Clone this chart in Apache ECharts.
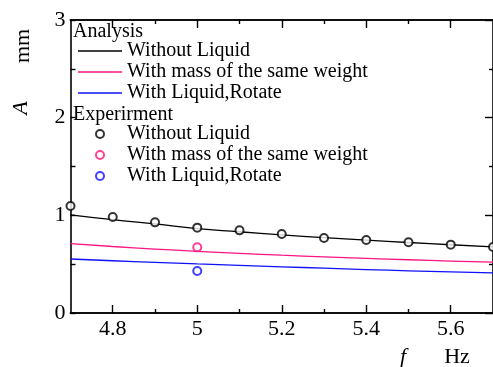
<!DOCTYPE html>
<html>
<head>
<meta charset="utf-8">
<script src="https://cdn.jsdelivr.net/npm/echarts@6/dist/echarts.min.js"></script>
<style>html,body{margin:0;padding:0;background:#fff;}#c{width:493px;height:367px;}</style>
</head>
<body>
<div id="c"></div>
<script>
// Analysis curves
const fLine = [4.7, 4.8, 4.9, 5.0, 5.1, 5.2, 5.3, 5.4, 5.5, 5.6, 5.7];
const anaWithout = [1.005, 0.955, 0.912, 0.864, 0.832, 0.800, 0.772, 0.746, 0.722, 0.699, 0.677];
const anaMass    = [0.710, 0.681, 0.655, 0.632, 0.611, 0.592, 0.575, 0.559, 0.545, 0.532, 0.521];
const anaLiquid  = [0.553, 0.535, 0.519, 0.503, 0.488, 0.473, 0.459, 0.445, 0.432, 0.421, 0.410];
// Experiment points
const fExp = [4.7, 4.8, 4.9, 5.0, 5.1, 5.2, 5.3, 5.4, 5.5, 5.6, 5.7];
const expWithout = [1.095, 0.983, 0.928, 0.874, 0.846, 0.809, 0.768, 0.747, 0.724, 0.700, 0.676];
const fExpMass = [5.0];
const expMass = [0.672];
const fExpLiquid = [5.0];
const expLiquid = [0.430];
// Ticks
const xMajor = [4.8, 5.0, 5.2, 5.4, 5.6];
const xMinor = [4.9, 5.1, 5.3, 5.5];
const names = {
  aW: 'Without Liquid', aM: 'With mass of the same weight', aL: 'With Liquid,Rotate',
  eW: 'Without Liquid', eM: 'With mass of the same weight', eL: 'With Liquid,Rotate'
};

const zip = (xs, ys) => xs.map((x, i) => [x, ys[i]]);
const serif = 'Liberation Serif';
const axisCol = '#000';
const BLACK = '#000000', PINK = '#ff1480', BLUE = '#1010ff';

function xAx(pos, vals, len, labels) {
  return {
    type: 'value', min: 4.7, max: 5.7, position: pos,
    axisLine: { show: true, onZero: false, lineStyle: { color: axisCol, width: 1.6 } },
    axisTick: { show: true, inside: true, length: len, customValues: vals, lineStyle: { color: axisCol, width: 1.4 } },
    axisLabel: labels ? { show: true, customValues: vals, color: '#000', fontFamily: serif, fontSize: 22, margin: 5 } : { show: false },
    splitLine: { show: false }
  };
}
function yAx(pos, len, minorLen, labels) {
  return {
    type: 'value', min: 0, max: 3, interval: 1, position: pos,
    axisLine: { show: true, onZero: false, lineStyle: { color: axisCol, width: 1.6 } },
    axisTick: { show: true, inside: true, length: len, lineStyle: { color: axisCol, width: 1.4 } },
    minorTick: { show: true, splitNumber: 2, length: minorLen, lineStyle: { color: axisCol, width: 1.4 } },
    axisLabel: labels ? { show: true, color: '#000', fontFamily: serif, fontSize: 22, margin: 5 } : { show: false },
    splitLine: { show: false }, minorSplitLine: { show: false }
  };
}

const lineS = (id, ys, col) => ({
  name: id, type: 'line', data: zip(fLine, ys), smooth: true, symbol: 'none',
  lineStyle: { color: col, width: 1.3 }, itemStyle: { color: col }, z: 2
});
const dotS = (id, xs, ys, col) => ({
  name: id, type: 'scatter', data: zip(xs, ys), symbol: 'emptyCircle', symbolSize: 8, clip: false,
  itemStyle: { color: col, borderColor: col, borderWidth: 1.3 }, z: 5
});

const legendBase = {
  orient: 'vertical', left: 78, padding: 0, itemWidth: 44, itemGap: 1,
  formatter: n => names[n],
  selectedMode: false,
  textStyle: { color: '#000', fontFamily: serif, fontSize: 20, lineHeight: 20 }
};

const chart = echarts.init(document.getElementById('c'), null, { renderer: 'canvas' });
chart.setOption({
  animation: false,
  backgroundColor: '#fff',
  grid: { left: 70.5, top: 20, width: 423.5, height: 293, containLabel: false },
  xAxis: [xAx('bottom', xMajor, 8, true), xAx('bottom', xMinor, 4, false), xAx('top', xMajor, 8, false), xAx('top', xMinor, 4, false)],
  yAxis: [yAx('left', 5, 5, true), yAx('right', 8, 4, false)],
  legend: [
    Object.assign({}, legendBase, { top: 41, itemHeight: 1.4, icon: 'rect', data: ['aW', 'aM', 'aL'] }),
    Object.assign({}, legendBase, { left: 95, top: 124, itemHeight: 8, icon: 'emptyCircle', data: ['eW', 'eM', 'eL'] })
  ],
  series: [
    lineS('aW', anaWithout, BLACK),
    lineS('aM', anaMass, PINK),
    lineS('aL', anaLiquid, BLUE),
    dotS('eW', fExp, expWithout, BLACK),
    dotS('eM', fExpMass, expMass, PINK),
    dotS('eL', fExpLiquid, expLiquid, BLUE)
  ],
  graphic: [
    { type: 'text', x: 73, y: 32, style: { text: 'Analysis', fill: '#000', font: '20px "Liberation Serif"', textAlign: 'left', textVerticalAlign: 'middle' } },
    { type: 'text', x: 73, y: 115, style: { text: 'Experirment', fill: '#000', font: '20px "Liberation Serif"', textAlign: 'left', textVerticalAlign: 'middle' } },
    { type: 'text', x: 23, y: 46, rotation: Math.PI / 2, style: { text: 'mm', fill: '#000', font: '22px "Liberation Serif"', textAlign: 'center', textVerticalAlign: 'middle' } },
    { type: 'text', x: 21, y: 108, rotation: Math.PI / 2, style: { text: 'A', fill: '#000', font: 'italic 22px "Liberation Serif"', textAlign: 'center', textVerticalAlign: 'middle' } },
    { type: 'text', x: 403, y: 357, style: { text: 'f', fill: '#000', font: 'italic 22px "Liberation Serif"', textAlign: 'center', textVerticalAlign: 'middle' } },
    { type: 'text', x: 457, y: 357, style: { text: 'Hz', fill: '#000', font: '22px "Liberation Serif"', textAlign: 'center', textVerticalAlign: 'middle' } }
  ]
});
</script>
</body>
</html>
